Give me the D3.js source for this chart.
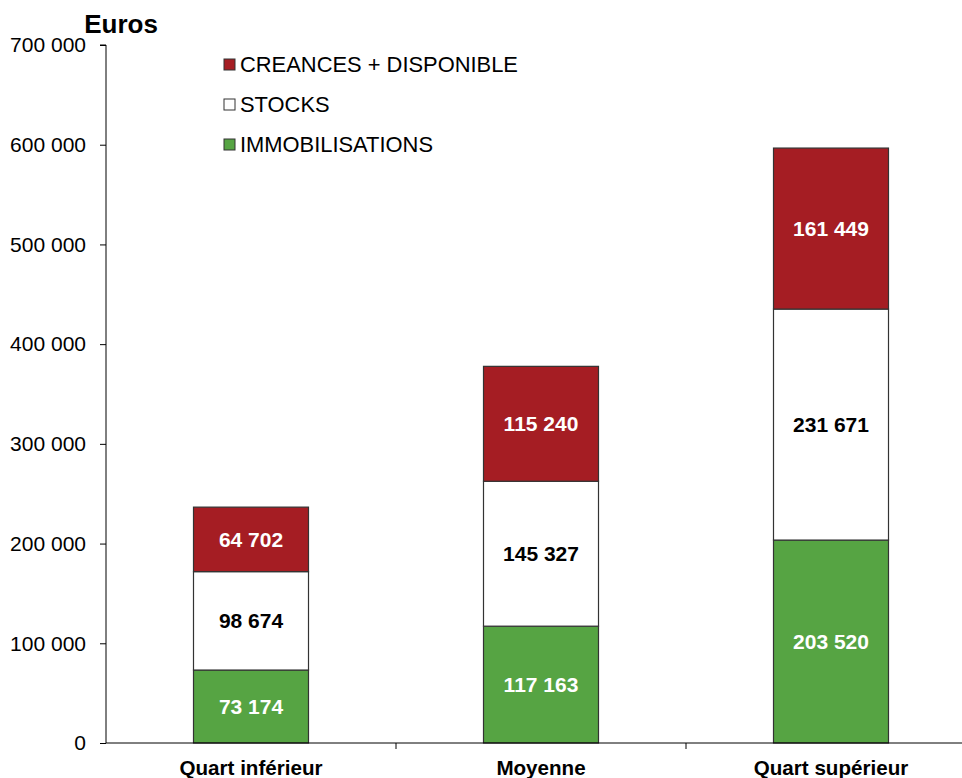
<!DOCTYPE html>
<html><head><meta charset="utf-8">
<script src="https://cdn.jsdelivr.net/npm/d3@7/dist/d3.min.js"></script>
<style>body{margin:0;background:#fff}svg{display:block;font-family:Arial,"Liberation Sans",sans-serif}</style>
</head><body><svg id="c" width="962" height="778"></svg>
<script>
const categories = ["Quart inférieur", "Moyenne", "Quart supérieur"];
const immobilisations = [73174, 117163, 203520];
const stocks = [98674, 145327, 231671];
const creances = [64702, 115240, 161449];
const seriesNames = ["IMMOBILISATIONS", "STOCKS", "CREANCES + DISPONIBLE"];
const yTicks = [0, 100000, 200000, 300000, 400000, 500000, 600000, 700000];

const svg = d3.select("#c");
const FF = "Arial, Liberation Sans, sans-serif";
const x0 = 106, catW = 290, yTop = 45, yBot = 743;
const x = d3.scaleBand().domain(categories).range([x0, x0 + catW * 3]).paddingInner(0).paddingOuter(0);
const y = d3.scaleLinear().domain([0, 700000]).range([yBot, yTop]);
const fmt = v => d3.format(",")(v).replace(/,/g, " ");

const colors = {"IMMOBILISATIONS": "#56A443", "STOCKS": "#FFFFFF", "CREANCES + DISPONIBLE": "#A51D23"};
const textCol = {"IMMOBILISATIONS": "#fff", "STOCKS": "#000", "CREANCES + DISPONIBLE": "#fff"};

const rows = categories.map((c, i) => ({cat: c, "IMMOBILISATIONS": immobilisations[i], "STOCKS": stocks[i], "CREANCES + DISPONIBLE": creances[i]}));
const stacked = d3.stack().keys(seriesNames)(rows);

// y axis
const yAxis = d3.axisLeft(y).tickValues(yTicks).tickFormat(fmt).tickSize(6).tickPadding(14);
const gy = svg.append("g").attr("transform", `translate(${x0},0)`).call(yAxis);
gy.attr("font-size", null).attr("font-family", null);
gy.select(".domain").attr("stroke", "#000").attr("d", `M-6,${yTop}H0V${yBot}`);
gy.selectAll(".tick line").attr("stroke", "#000");
gy.selectAll(".tick text").style("font-size", "21px").attr("fill", "#000").style("font-family", FF);

// bars
const barW = 115;
stacked.forEach(s => {
  const g = svg.append("g");
  g.selectAll("rect").data(s).join("rect")
    .attr("x", d => x(d.data.cat) + (catW - barW) / 2)
    .attr("width", barW)
    .attr("y", d => y(d[1]))
    .attr("height", d => y(d[0]) - y(d[1]))
    .attr("fill", colors[s.key])
    .attr("stroke", "#333").attr("stroke-width", 1.2);
  g.selectAll("text").data(s).join("text")
    .attr("x", d => x(d.data.cat) + catW / 2)
    .attr("y", d => (y(d[0]) + y(d[1])) / 2 + 7.5)
    .attr("text-anchor", "middle")
    .style("font-size", "21px").attr("font-weight", "bold")
    .attr("fill", textCol[s.key])
    .text(d => fmt(d[1] - d[0]));
});

// x axis
const xAxis = d3.axisBottom(x).tickSize(0).tickPadding(20);
const gx = svg.append("g").attr("transform", `translate(0,${yBot})`).call(xAxis);
gx.attr("font-size", null).attr("font-family", null);
gx.select(".domain").attr("stroke", "#000").attr("d", `M${x0},0H962`);
gx.selectAll(".tick text").style("font-size", "20.6px").attr("font-weight", "bold").attr("fill", "#000")
  .style("font-family", FF).attr("y", 32).attr("dy", null);
categories.slice(1).forEach(c => {
  svg.append("line").attr("x1", x(c)).attr("x2", x(c)).attr("y1", yBot).attr("y2", yBot + 6).attr("stroke", "#000");
});

// title
svg.append("text").attr("x", 121).attr("y", 33).attr("text-anchor", "middle")
  .style("font-size", "26px").attr("font-weight", "bold").text("Euros");

// legend
const legendOrder = ["CREANCES + DISPONIBLE", "STOCKS", "IMMOBILISATIONS"];
const lg = svg.append("g");
legendOrder.forEach((k, i) => {
  const yy = 64 + i * 40;
  lg.append("rect").attr("x", 224).attr("y", yy - 5).attr("width", 11).attr("height", 11)
    .attr("fill", colors[k]).attr("stroke", "#333").attr("stroke-width", 1);
  lg.append("text").attr("x", 240).attr("y", yy + 8).style("font-size", "21.9px").attr("fill", "#000").text(k);
});
</script></body></html>
